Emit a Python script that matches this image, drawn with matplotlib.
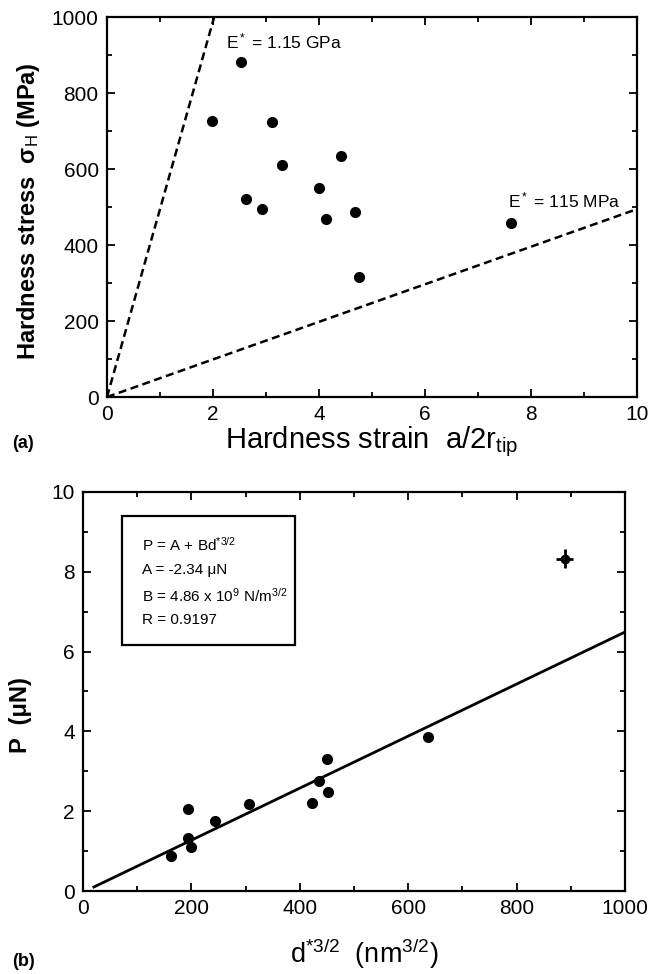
import numpy as np
import matplotlib.pyplot as plt
from matplotlib.patches import Rectangle

plt.rcParams['font.family'] = ['Liberation Sans', 'DejaVu Sans']
plt.rcParams['mathtext.fontset'] = 'custom'
plt.rcParams['mathtext.rm'] = 'Liberation Sans'
plt.rcParams['mathtext.it'] = 'Liberation Sans:italic'
plt.rcParams['mathtext.bf'] = 'Liberation Sans:bold'

# (a) hardness stress vs hardness strain
strain = [2.52, 1.98, 3.12, 4.42, 3.30, 4.00, 2.62, 2.93, 4.67, 4.13, 4.75, 7.62]
stress = [882, 727, 725, 633, 611, 551, 521, 495, 486, 468, 317, 459]

# reduced moduli of the two bounding lines (MPa) and the stress/strain factor
E_high = 1150
E_low = 115
k = 0.43

# (b) load vs d*^(3/2)
d32 = [163, 194, 194, 199, 243, 306, 423, 435, 451, 452, 636]
load = [0.88, 2.06, 1.32, 1.10, 1.75, 2.19, 2.21, 2.75, 3.31, 2.48, 3.86]
# outlier with error bars
d32_out = 889
load_out = 8.33
d32_err = 16
load_err = 0.24

# straight line through the data (plot units)
fit_a = -0.03
fit_b = 0.00652
fit_x = [20, 1000]

box_lines = [r"P = A + Bd$^{*3/2}$",
             "A = -2.34 \u03bcN",
             r"B = 4.86 x 10$^{9}$ N/m$^{3/2}$",
             "R = 0.9197"]

fig = plt.figure(figsize=(6.5, 9.74), dpi=100)
ax1 = fig.add_axes([0.1646, 0.5924, 0.8154, 0.3901])
ax2 = fig.add_axes([0.1277, 0.0852, 0.8338, 0.4097])


def style(ax):
    for s in ax.spines.values():
        s.set_linewidth(1.6)
    ax.tick_params(which='both', direction='in', top=True, right=True,
                   labelsize=15, width=1.3, pad=6)
    ax.tick_params(which='major', length=6)
    ax.tick_params(which='minor', length=3.5)


# top panel
xs = np.linspace(0, 10, 200)
ax1.plot(xs, k * E_high * xs, ls=(0, (3.2, 1.8)), color='k', lw=1.8)
ax1.plot(xs, k * E_low * xs, ls=(0, (3.2, 1.8)), color='k', lw=1.8)
ax1.plot(strain, stress, 'o', color='k', ms=7)
ax1.text(2.25, 935, r"E$^*$ = 1.15 GPa", fontsize=12.5, va='center')
ax1.text(7.57, 518, r"E$^*$ = 115 MPa", fontsize=12.5, va='center')
ax1.set_xlim(0, 10)
ax1.set_ylim(0, 1000)
ax1.set_xticks(np.arange(0, 11, 2))
ax1.set_xticks(np.arange(0, 11, 1), minor=True)
ax1.set_yticks(np.arange(0, 1001, 200))
ax1.set_yticks(np.arange(0, 1001, 100), minor=True)
style(ax1)
ax1.set_xlabel(r"Hardness strain  a/2r$_{\rm tip}$", fontsize=21, va='center')
ax1.xaxis.set_label_coords(0.5, -0.118)
ax1.set_ylabel("Hardness stress  \u03c3$_{\\rm H}$ (MPa)", fontsize=17,
               fontweight='bold', va='center')
ax1.yaxis.set_label_coords(-0.149, 0.489)

# bottom panel
fx = np.array(fit_x)
ax2.plot(fx, fit_a + fit_b * fx, color='k', lw=2)
ax2.plot(d32, load, 'o', color='k', ms=7)
ax2.errorbar([d32_out], [load_out], xerr=[d32_err], yerr=[load_err],
             fmt='o', color='k', ms=6, elinewidth=2, capsize=0)
ax2.add_patch(Rectangle((0.072, 0.617), 0.319, 0.323, transform=ax2.transAxes,
                        fill=False, lw=1.6, ec='k'))
for yy, t in zip([0.867, 0.805, 0.739, 0.679], box_lines):
    ax2.text(0.109, yy, t, transform=ax2.transAxes, fontsize=11, va='center')
ax2.set_xlim(0, 1000)
ax2.set_ylim(0, 10)
ax2.set_xticks(np.arange(0, 1001, 200))
ax2.set_xticks(np.arange(0, 1001, 100), minor=True)
ax2.set_yticks(np.arange(0, 11, 2))
ax2.set_yticks(np.arange(0, 11, 1), minor=True)
style(ax2)
ax2.set_xlabel(r"d$^{*3/2}$  (nm$^{3/2}$)", fontsize=19.5, va='center')
ax2.xaxis.set_label_coords(0.518, -0.158)
ax2.set_ylabel("P  (\u03bcN)", fontsize=17, fontweight='bold', va='center')
ax2.yaxis.set_label_coords(-0.116, 0.44)

fig.text(0.018, 1 - 443 / 974, "(a)", fontsize=13, fontweight='bold', va='center')
fig.text(0.018, 1 - 962 / 974, "(b)", fontsize=13, fontweight='bold', va='center')

fig.savefig('out.png', dpi=100)
